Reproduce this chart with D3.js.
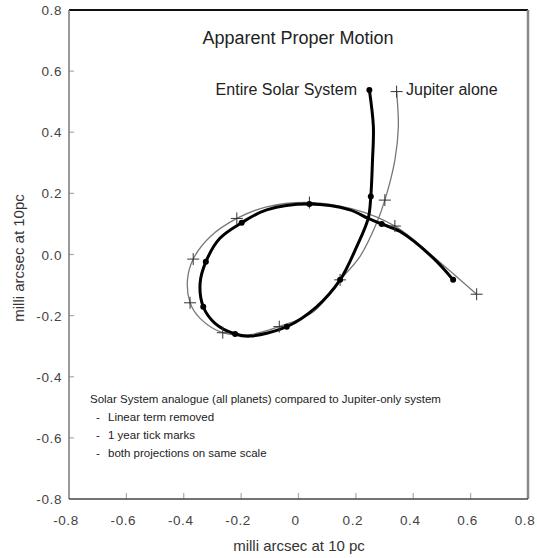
<!DOCTYPE html>
<html>
<head>
<meta charset="utf-8">
<script src="https://d3js.org/d3.v7.min.js"></script>
<style>
  body { margin: 0; background: #fff; }
  text { font-family: "Liberation Sans", Arial, sans-serif; }
</style>
</head>
<body>
<div id="chart"></div>
<script>
var w = 537, h = 558;

// tick values
var xTicks = [-0.8, -0.6, -0.4, -0.2, 0, 0.2, 0.4, 0.6, 0.8];
var xTickLabels = ["-0.8", "-0.6", "-0.4", "-0.2", "0", "0.2", "0.4", "0.6", "0.8"];
var yTicks = [0.8, 0.6, 0.4, 0.2, 0, -0.2, -0.4, -0.6, -0.8];
var yTickLabels = ["0.8", "0.6", "0.4", "0.2", "0.0", "-0.2", "-0.4", "-0.6", "-0.8"];

// entire solar system path
var solarX = [0.247, 0.261, 0.258, 0.252, 0.243, 0.203, 0.145, 0.063, -0.041, -0.169, -0.221, -0.291, -0.332, -0.343, -0.323, -0.274, -0.198, -0.111, 0.038, 0.179, 0.243, 0.290, 0.354, 0.470, 0.539];
var solarY = [0.538, 0.418, 0.309, 0.190, 0.118, 0.026, -0.083, -0.171, -0.236, -0.267, -0.260, -0.225, -0.171, -0.094, -0.024, 0.053, 0.104, 0.146, 0.165, 0.146, 0.118, 0.100, 0.075, -0.012, -0.083];
// yearly marks on the solar path (indexes into the arrays above)
var solarYears = [0, 3, 6, 8, 10, 12, 14, 16, 18, 21, 24];

// jupiter only path
var jupX = [0.342, 0.348, 0.336, 0.301, 0.272, 0.214, 0.145, 0.052, -0.067, -0.170, -0.264, -0.343, -0.378, -0.387, -0.367, -0.308, -0.215, -0.111, 0.038, 0.185, 0.336, 0.470, 0.621];
var jupY = [0.533, 0.418, 0.309, 0.178, 0.102, -0.007, -0.083, -0.187, -0.236, -0.262, -0.256, -0.209, -0.158, -0.083, -0.015, 0.058, 0.118, 0.156, 0.170, 0.150, 0.093, -0.007, -0.130];
var jupYears = [0, 3, 6, 8, 10, 12, 14, 16, 18, 20, 22];

var notes = [
  "Solar  System analogue (all planets) compared to Jupiter-only system",
  "Linear term removed",
  "1 year tick marks",
  "both projections on same scale"
];

var svg = d3.select('#chart').append('svg')
  .attr('width', w)
  .attr('height', h);

var x = d3.scaleLinear().domain([-0.8, 0.8]).range([69, 528]);
var y = d3.scaleLinear().domain([-0.8, 0.8]).range([499, 10]);

// inner tick marks
svg.selectAll('line.xt')
  .data(xTicks.slice(1, -1))
  .enter().append('line')
  .attr('x1', function(d) { return x(d); })
  .attr('x2', function(d) { return x(d); })
  .attr('y1', y(-0.8))
  .attr('y2', y(-0.8) - 6)
  .style('stroke', '#aaa')
  .style('stroke-width', 1.2);

svg.selectAll('line.yt')
  .data(yTicks.slice(1, -1))
  .enter().append('line')
  .attr('x1', x(-0.8))
  .attr('x2', x(-0.8) + 5)
  .attr('y1', function(d) { return y(d); })
  .attr('y2', function(d) { return y(d); })
  .style('stroke', '#aaa')
  .style('stroke-width', 1.2);

// frame
svg.append('line').attr('x1', x(-0.8)).attr('x2', x(0.8)).attr('y1', y(0.8)).attr('y2', y(0.8))
  .style('stroke', '#111').style('stroke-width', 2);
svg.append('line').attr('x1', x(0.8)).attr('x2', x(0.8)).attr('y1', y(0.8)).attr('y2', y(-0.8))
  .style('stroke', '#888').style('stroke-width', 2.5);
svg.append('line').attr('x1', x(-0.8)).attr('x2', x(-0.8)).attr('y1', y(0.8)).attr('y2', y(-0.8))
  .style('stroke', '#777').style('stroke-width', 1.5);
svg.append('line').attr('x1', x(-0.8)).attr('x2', x(0.8)).attr('y1', y(-0.8)).attr('y2', y(-0.8))
  .style('stroke', '#444').style('stroke-width', 1.5);

// tick labels
svg.selectAll('text.xl')
  .data(xTicks)
  .enter().append('text')
  .attr('x', function(d) { return x(d) - 3; })
  .attr('y', 525)
  .attr('text-anchor', 'middle')
  .style('font-size', '13.5px')
  .style('letter-spacing', '0.6px')
  .style('fill', '#444')
  .text(function(d, i) { return xTickLabels[i]; });

svg.selectAll('text.yl')
  .data(yTicks)
  .enter().append('text')
  .attr('x', 62)
  .attr('y', function(d) { return y(d) + 5; })
  .attr('text-anchor', 'end')
  .style('font-size', '13.5px')
  .style('letter-spacing', '0.6px')
  .style('fill', '#444')
  .text(function(d, i) { return yTickLabels[i]; });

// axis titles
svg.append('text')
  .attr('x', 299).attr('y', 551)
  .attr('text-anchor', 'middle')
  .style('font-size', '15px')
  .style('fill', '#333')
  .text('milli arcsec at 10 pc');

svg.append('text')
  .attr('transform', 'translate(24,258) rotate(-90)')
  .attr('text-anchor', 'middle')
  .style('font-size', '15px')
  .style('fill', '#333')
  .text('milli arcsec at 10pc');

// title and labels
svg.append('text')
  .attr('x', 298).attr('y', 44)
  .attr('text-anchor', 'middle')
  .style('font-size', '18px')
  .style('fill', '#222')
  .text('Apparent Proper Motion');

svg.append('text')
  .attr('x', 357).attr('y', 95)
  .attr('text-anchor', 'end')
  .style('font-size', '16px')
  .style('fill', '#222')
  .text('Entire Solar System');

svg.append('text')
  .attr('x', 406).attr('y', 95)
  .style('font-size', '16px')
  .style('fill', '#222')
  .text('Jupiter alone');

// curves
var line = d3.line()
  .x(function(d) { return x(d[0]); })
  .y(function(d) { return y(d[1]); })
  .curve(d3.curveCatmullRom.alpha(0.5));

var jupPts = jupX.map(function(v, i) { return [v, jupY[i]]; });
var solPts = solarX.map(function(v, i) { return [v, solarY[i]]; });

svg.append('path')
  .attr('d', line(jupPts))
  .style('fill', 'none')
  .style('stroke', '#777')
  .style('stroke-width', 1.3);

svg.append('path')
  .attr('d', line(solPts))
  .style('fill', 'none')
  .style('stroke', '#000')
  .style('stroke-width', 3);

// yearly marks
var plus = svg.selectAll('g.plus')
  .data(jupYears)
  .enter().append('g')
  .attr('transform', function(i) { return 'translate(' + x(jupX[i]) + ',' + y(jupY[i]) + ')'; });
plus.append('line').attr('x1', -6).attr('x2', 6).attr('y1', 0).attr('y2', 0)
  .style('stroke', '#333').style('stroke-width', 1);
plus.append('line').attr('x1', 0).attr('x2', 0).attr('y1', -6).attr('y2', 6)
  .style('stroke', '#333').style('stroke-width', 1);

svg.selectAll('circle.dot')
  .data(solarYears)
  .enter().append('circle')
  .attr('cx', function(i) { return x(solarX[i]); })
  .attr('cy', function(i) { return y(solarY[i]); })
  .attr('r', 3)
  .style('fill', '#000');

// note block
svg.selectAll('text.note')
  .data(notes)
  .enter().append('text')
  .attr('x', function(d, i) { return i == 0 ? 90 : 108; })
  .attr('y', function(d, i) { return 403 + i * 18; })
  .style('font-size', '11.5px')
  .style('fill', '#222')
  .text(function(d) { return d; });

svg.selectAll('text.dash')
  .data(notes.slice(1))
  .enter().append('text')
  .attr('x', 96)
  .attr('y', function(d, i) { return 421 + i * 18; })
  .style('font-size', '11.5px')
  .style('fill', '#222')
  .text('-');
</script>
</body>
</html>
